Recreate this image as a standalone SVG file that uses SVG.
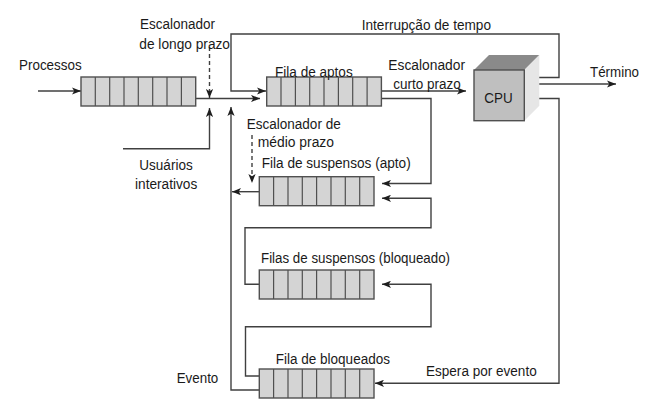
<svg xmlns="http://www.w3.org/2000/svg" xmlns:xlink="http://www.w3.org/1999/xlink" width="647" height="413" viewBox="0 0 647 413">
<style>
  text { font-family: "Liberation Sans", Arial, sans-serif; font-size: 15.5px; fill: #1a1a1a; }
  .ln { fill: none; stroke: #404040; stroke-width: 1.4; }
  .arr { marker-end: url(#ah); }
  .dash { stroke-dasharray: 4 3; }
  .qbox { fill: #d4d4d4; stroke: #505050; stroke-width: 1.4; }
  .qdiv { stroke: #505050; stroke-width: 1.2; }
</style>
<defs>
  <marker id="ah" viewBox="0 0 10 8" refX="10" refY="4" markerWidth="9" markerHeight="7.5" markerUnits="userSpaceOnUse" orient="auto">
    <path d="M0,0 L10,4 L0,8 L2.5,4 Z" fill="#1e1e1e"/>
  </marker>
  <g id="q">
    <rect class="qbox" x="0" y="0" width="114.7" height="29"/>
    <path class="qdiv" d="M14.3,0V29M28.7,0V29M43,0V29M57.3,0V29M71.7,0V29M86,0V29M100.4,0V29"/>
  </g>
</defs>
<rect width="647" height="413" fill="#fff"/>

<g id="connectors">
  <path class="ln arr" d="M38,91 H81"/>
  <path class="ln arr" d="M196,98.5 H260"/>
  <path class="ln arr dash" d="M209.5,47 V98"/>
  <path class="ln arr" d="M123,148.7 H209.5 V108"/>
  <path class="ln arr" d="M530,77.5 H559 V34 H231 V91 H266"/>
  <path class="ln arr" d="M259.3,390 H231 V107"/>
  <path class="ln arr" d="M381.3,91 H466"/>
  <path class="ln arr" d="M381.3,98.5 H431 V183.5 H382"/>
  <path class="ln arr" d="M259.3,191.7 H232"/>
  <path class="ln arr dash" d="M252,135 V183"/>
  <path class="ln arr" d="M259.3,284.3 H245 V227.7 H431 V198.3 H382"/>
  <path class="ln arr" d="M259.3,376 H245.5 V326.7 H431 V284.3 H382"/>
  <path class="ln arr" d="M530,84 H616"/>
  <path class="ln arr" d="M530,98.5 H559 V383.3 H375"/>
</g>

<g id="fila-processos">
  <use xlink:href="#q" href="#q" x="81" y="77"/>
  <text x="19" y="70" textLength="62.7" lengthAdjust="spacingAndGlyphs">Processos</text>
</g>

<g id="escalonador-longo">
  <text x="140" y="29" textLength="75" lengthAdjust="spacingAndGlyphs">Escalonador</text>
  <text x="139.3" y="48.5" textLength="90.7" lengthAdjust="spacingAndGlyphs">de longo prazo</text>
</g>

<g id="usuarios">
  <text x="139.3" y="170" textLength="53.4" lengthAdjust="spacingAndGlyphs">Usuários</text>
  <text x="135" y="189" textLength="62.3" lengthAdjust="spacingAndGlyphs">interativos</text>
</g>

<g id="fila-aptos">
  <use xlink:href="#q" href="#q" x="266.7" y="77"/>
  <text x="275" y="76.5" textLength="77.7" lengthAdjust="spacingAndGlyphs">Fila de aptos</text>
</g>

<g id="escalonador-curto">
  <text x="388.3" y="70" textLength="76.7" lengthAdjust="spacingAndGlyphs">Escalonador</text>
  <text x="393.3" y="89" textLength="67.4" lengthAdjust="spacingAndGlyphs">curto prazo</text>
</g>

<g id="interrupcao">
  <text x="361.7" y="29.5" textLength="129.3" lengthAdjust="spacingAndGlyphs">Interrupção de tempo</text>
</g>

<g id="cpu">
  <polygon points="474,70 489,55 539.3,55 524.3,70" fill="#8a8a8a"/>
  <polygon points="524.3,70 539.3,55 539.3,105.7 524.3,120.7" fill="#e6e6e6"/>
  <rect x="474" y="70" width="50.3" height="50.7" fill="#bfbfbf" stroke="#505050" stroke-width="1.4"/>
  <text x="484.3" y="102.5" textLength="28.4" lengthAdjust="spacingAndGlyphs">CPU</text>
</g>

<g id="termino">
  <text x="590" y="77" textLength="49" lengthAdjust="spacingAndGlyphs">Término</text>
</g>

<g id="escalonador-medio">
  <text x="246.7" y="129" textLength="94" lengthAdjust="spacingAndGlyphs">Escalonador de</text>
  <text x="257.7" y="146.5" textLength="76.3" lengthAdjust="spacingAndGlyphs">médio prazo</text>
</g>

<g id="fila-suspensos-apto">
  <use xlink:href="#q" href="#q" x="259.3" y="176.7"/>
  <text x="261.7" y="167.5" textLength="149" lengthAdjust="spacingAndGlyphs">Fila de suspensos (apto)</text>
</g>

<g id="filas-suspensos-bloqueado">
  <use xlink:href="#q" href="#q" x="259.3" y="270"/>
  <text x="261" y="262.5" textLength="189" lengthAdjust="spacingAndGlyphs">Filas de suspensos (bloqueado)</text>
</g>

<g id="fila-bloqueados">
  <use xlink:href="#q" href="#q" x="259.3" y="369"/>
  <text x="275.7" y="364" textLength="114.3" lengthAdjust="spacingAndGlyphs">Fila de bloqueados</text>
</g>

<g id="espera">
  <text x="426" y="376" textLength="110.7" lengthAdjust="spacingAndGlyphs">Espera por evento</text>
</g>

<g id="evento">
  <text x="176.7" y="382.5" textLength="41.6" lengthAdjust="spacingAndGlyphs">Evento</text>
</g>
</svg>
